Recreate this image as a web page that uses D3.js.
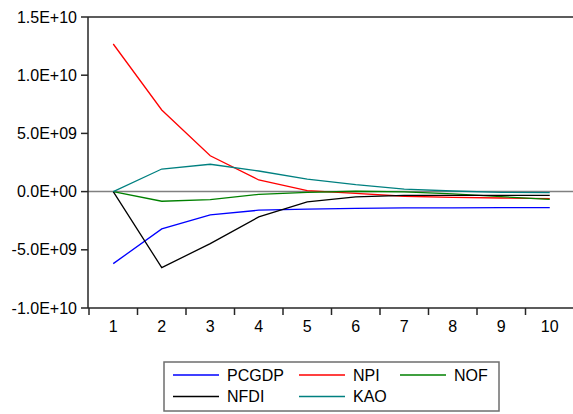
<!DOCTYPE html>
<html>
<head>
<meta charset="utf-8">
<script src="https://cdn.jsdelivr.net/npm/d3@7"></script>
<style>
  html, body { margin: 0; padding: 0; background: #fff; }
  svg { display: block; font-family: "Liberation Sans", Arial, sans-serif; }
</style>
</head>
<body>
<svg id="chart" width="573" height="414"></svg>
<script>
// Periods on the horizontal axis
const periods = [1, 2, 3, 4, 5, 6, 7, 8, 9, 10];

// Responses per period
const pcgdp = [-6.19e9, -3.2e9, -2.0e9, -1.6e9, -1.5e9, -1.44e9, -1.4e9, -1.39e9, -1.38e9, -1.38e9];
const npi   = [12.68e9, 7.01e9, 3.08e9, 1.0e9, 0.08e9, -0.15e9, -0.4e9, -0.49e9, -0.55e9, -0.61e9];
const nof   = [0, -0.83e9, -0.69e9, -0.23e9, -0.06e9, 0.03e9, -0.03e9, -0.2e9, -0.44e9, -0.66e9];
const nfdi  = [0, -6.53e9, -4.47e9, -2.18e9, -0.89e9, -0.45e9, -0.33e9, -0.33e9, -0.32e9, -0.32e9];
const kao   = [0, 1.94e9, 2.35e9, 1.77e9, 1.08e9, 0.6e9, 0.22e9, 0.05e9, -0.06e9, -0.09e9];

const seriesNames  = ["PCGDP", "NPI", "NOF", "NFDI", "KAO"];
const seriesValues = [pcgdp, npi, nof, nfdi, kao];
const seriesColors = ["#0000ff", "#ff0000", "#008000", "#000000", "#008080"];

// Value-axis ticks
const yTicks = [-1.0e10, -5.0e9, 0, 5.0e9, 1.0e10, 1.5e10];

const svg = d3.select("#chart");
const plot = { left: 88, right: 574, top: 17, bottom: 308 };

const x = d3.scaleBand().domain(periods).range([plot.left + 1, plot.right]).padding(0);
const y = d3.scaleLinear().domain([-1.0e10, 1.5e10]).range([plot.bottom, plot.top]);

// Scientific notation with a two-digit exponent and ASCII minus, e.g. -5.0E+09
function sci(v) {
  const s = d3.format(".1e")(v).replace(/\u2212/g, "-");
  const [m, e] = s.split("e");
  const sign = e[0] === "-" ? "-" : "+";
  const digits = e.replace(/[+-]/, "").padStart(2, "0");
  return m + "E" + sign + digits;
}

const axisColor = "#262626";

// Zero reference line
svg.append("line")
  .attr("x1", plot.left).attr("x2", 573)
  .attr("y1", y(0)).attr("y2", y(0))
  .attr("stroke", "#808080").attr("stroke-width", 1.5);

// Series lines
const line = d3.line()
  .x((d, i) => x(periods[i]) + x.bandwidth() / 2)
  .y(d => y(d));

svg.append("g").selectAll("path")
  .data(seriesValues)
  .join("path")
  .attr("d", d => line(d))
  .attr("fill", "none")
  .attr("stroke", (d, i) => seriesColors[i])
  .attr("stroke-width", 1.3)
  .attr("stroke-linejoin", "miter");

// Frame: top edge, left axis, bottom axis
svg.append("line")
  .attr("x1", plot.left).attr("x2", 573)
  .attr("y1", plot.top).attr("y2", plot.top)
  .attr("stroke", axisColor).attr("stroke-width", 1.5);
svg.append("line")
  .attr("x1", plot.left).attr("x2", plot.left)
  .attr("y1", plot.top).attr("y2", plot.bottom)
  .attr("stroke", axisColor).attr("stroke-width", 1.5);
svg.append("line")
  .attr("x1", plot.left).attr("x2", 573)
  .attr("y1", plot.bottom).attr("y2", plot.bottom)
  .attr("stroke", axisColor).attr("stroke-width", 1.5);

// Y axis ticks and labels
const yg = svg.append("g");
yg.selectAll("line")
  .data(yTicks)
  .join("line")
  .attr("x1", plot.left - 7).attr("x2", plot.left)
  .attr("y1", d => y(d)).attr("y2", d => y(d))
  .attr("stroke", axisColor).attr("stroke-width", 1.5);
yg.selectAll("text")
  .data(yTicks)
  .join("text")
  .attr("x", plot.left - 11)
  .attr("y", d => y(d))
  .attr("dy", "0.35em")
  .attr("text-anchor", "end")
  .attr("font-size", 16)
  .attr("fill", "#000")
  .text(d => sci(d));

// X axis ticks at band edges, labels at band centres
const xg = svg.append("g");
xg.selectAll("line")
  .data(periods)
  .join("line")
  .attr("x1", d => x(d)).attr("x2", d => x(d))
  .attr("y1", plot.bottom).attr("y2", plot.bottom + 7)
  .attr("stroke", axisColor).attr("stroke-width", 1.5);
xg.selectAll("text")
  .data(periods)
  .join("text")
  .attr("x", d => x(d) + x.bandwidth() / 2)
  .attr("y", 332)
  .attr("text-anchor", "middle")
  .attr("font-size", 16)
  .attr("fill", "#000")
  .text(d => d);

// Legend
const legend = svg.append("g");
legend.append("rect")
  .attr("x", 164).attr("y", 362)
  .attr("width", 335).attr("height", 49)
  .attr("fill", "#fff")
  .attr("stroke", "#6e6e6e").attr("stroke-width", 1.5);

const colX = [173, 299, 400];
const rowY = [375, 396.5];
const items = legend.selectAll("g.item")
  .data(seriesNames)
  .join("g")
  .attr("class", "item")
  .attr("transform", (d, i) => `translate(${colX[i % 3]},${rowY[Math.floor(i / 3)]})`);
items.append("line")
  .attr("x1", 0).attr("x2", 46)
  .attr("y1", 0).attr("y2", 0)
  .attr("stroke", (d, i) => seriesColors[i])
  .attr("stroke-width", 1.3);
items.append("text")
  .attr("x", 54)
  .attr("y", 0)
  .attr("dy", "0.36em")
  .attr("font-size", 16)
  .attr("fill", "#000")
  .text(d => d);
</script>
</body>
</html>
